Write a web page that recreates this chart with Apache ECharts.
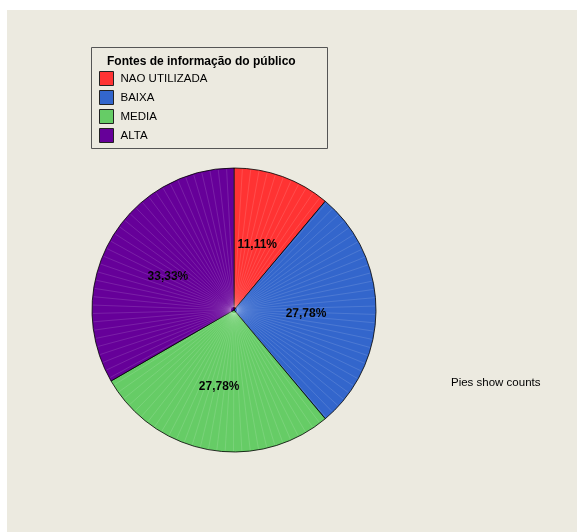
<!DOCTYPE html>
<html>
<head>
<meta charset="utf-8">
<script src="https://cdn.jsdelivr.net/npm/echarts@6/dist/echarts.min.js"></script>
<style>
  html, body { margin: 0; padding: 0; background: #ffffff; }
  #chart { width: 577px; height: 532px; }
</style>
</head>
<body>
<div id="chart"></div>
<script>
// Categories and counts for the pie
const categories = ['NAO UTILIZADA', 'BAIXA', 'MEDIA', 'ALTA'];
const counts = [2, 5, 5, 6];
const sliceColors = ['#FF3333', '#3366CC', '#66CC66', '#660099'];
const legendTitle = 'Fontes de informação do público';
const footNote = 'Pies show counts';

// Pie geometry
const pieCenter = [234, 310];
const pieRadius = 142;

const FONT = 'Liberation Sans, Arial, sans-serif';

const chart = echarts.init(document.getElementById('chart'), null, { renderer: 'canvas' });

// Faint radial shading strokes across the disc
const shadeLines = [];
for (let a = 0; a < 360; a += 3.4) {
  const rad = a * Math.PI / 180;
  const r0 = 3, r1 = pieRadius - 1;
  shadeLines.push({
    type: 'line',
    silent: true,
    z: 100,
    shape: {
      x1: pieCenter[0] + r0 * Math.sin(rad), y1: pieCenter[1] - r0 * Math.cos(rad),
      x2: pieCenter[0] + r1 * Math.sin(rad), y2: pieCenter[1] - r1 * Math.cos(rad)
    },
    style: { stroke: 'rgba(255,255,255,0.18)', lineWidth: 0.7 }
  });
}

const option = {
  backgroundColor: '#ffffff',
  animation: false,
  textStyle: { fontFamily: FONT },
  title: {
    text: legendTitle,
    left: 107,
    top: 56,
    padding: 0,
    textStyle: { fontSize: 12, fontWeight: 'bold', color: '#000', fontFamily: FONT }
  },
  legend: {
    orient: 'vertical',
    left: 99,
    top: 71,
    padding: 0,
    itemWidth: 14,
    itemHeight: 14,
    itemGap: 4,
    icon: 'rect',
    selectedMode: false,
    data: categories,
    itemStyle: { borderColor: '#222', borderWidth: 1 },
    textStyle: { fontSize: 11.5, lineHeight: 14, color: '#000', padding: [0, 0, 0, 2], fontFamily: FONT }
  },
  graphic: [
    {
      type: 'rect', z: -10, silent: true,
      shape: { x: 7, y: 10, width: 570, height: 522 },
      style: { fill: '#ECEAE0' }
    },
    {
      type: 'rect', z: -5, silent: true,
      shape: { x: 91.5, y: 47.5, width: 236, height: 101 },
      style: { fill: 'none', stroke: '#555', lineWidth: 1 }
    },
    {
      type: 'text', silent: true,
      x: 451, y: 383,
      style: {
        text: footNote, fill: '#000', fontSize: 11.5,
        fontFamily: FONT,
        verticalAlign: 'middle', align: 'left'
      }
    },
    {
      type: 'group', silent: true,
      children: shadeLines
    }
  ],
  series: [{
    type: 'pie',
    center: pieCenter,
    radius: pieRadius,
    startAngle: 90,
    clockwise: true,
    silent: true,
    z: 2,
    emphasis: { disabled: true },
    itemStyle: { borderColor: '#000', borderWidth: 0.8 },
    label: {
      show: true,
      position: 'inside',
      color: '#000',
      fontSize: 12,
      fontWeight: 'bold',
      fontFamily: FONT,
      offset: [-2, 4],
      formatter: p => p.percent.toFixed(2).replace('.', ',') + '%'
    },
    labelLine: { show: false },
    data: categories.map((c, i) => ({ name: c, value: counts[i], itemStyle: { color: sliceColors[i] } }))
  }]
};

chart.setOption(option);
</script>
</body>
</html>
